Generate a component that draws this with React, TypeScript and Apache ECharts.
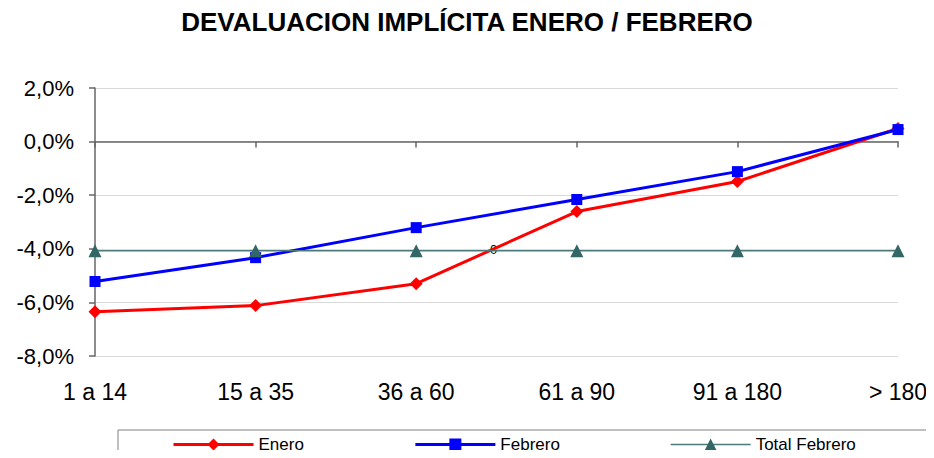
import React, { useEffect, useRef } from "react";
import * as echarts from "echarts";

const categories = ["1 a 14", "15 a 35", "36 a 60", "61 a 90", "91 a 180", "> 180"];
const enero = [-6.35, -6.12, -5.3, -2.61, -1.49, 0.49];
const febrero = [-5.22, -4.33, -3.21, -2.16, -1.12, 0.45];
const totalFebrero = [-4.07, -4.07, -4.07, -4.07, -4.07, -4.07];
const titleText = "DEVALUACION IMPLÍCITA ENERO / FEBRERO";

const fmt = (v: number) => v.toFixed(1).replace(".", ",") + "%";

export default function App() {
  const ref = useRef<HTMLDivElement>(null);
  useEffect(() => {
    const chart = echarts.init(ref.current!, null, { renderer: "svg" });
    const font = "Arial, 'Liberation Sans', sans-serif";
    chart.setOption({
      animation: false,
      backgroundColor: "#ffffff",
      textStyle: { fontFamily: font },
      title: {
        text: titleText,
        left: "center",
        top: 4,
        textStyle: { fontSize: 26, fontWeight: "bold", color: "#000", fontFamily: font },
      },
      grid: { left: 95, right: 36, top: 88, bottom: 102 },
      legend: {
        left: 118,
        top: 430,
        padding: [6, 72, 20, 54],
        itemGap: 110,
        itemWidth: 80,
        itemHeight: 15,
        borderColor: "#808080",
        borderWidth: 1,
        textStyle: { fontSize: 17, color: "#000", fontFamily: font },
        data: [
          { name: "Enero", lineStyle: { width: 3 } },
          { name: "Febrero", lineStyle: { width: 3 } },
          { name: "Total Febrero", lineStyle: { width: 1.5 } },
        ],
      },
      xAxis: [
        {
          type: "category",
          data: categories,
          boundaryGap: false,
          axisLine: { onZero: true, lineStyle: { color: "#666", width: 1.5 } },
          axisTick: { show: true, length: 6, inside: false, lineStyle: { color: "#666", width: 1.5 } },
          axisLabel: { show: false },
          splitLine: { show: false },
        },
        {
          type: "category",
          data: categories,
          boundaryGap: false,
          position: "bottom",
          axisLine: { show: false, onZero: false },
          axisTick: { show: false },
          axisLabel: { show: true, fontSize: 23, color: "#000", margin: 24, fontFamily: font },
          splitLine: { show: false },
        },
      ],
      yAxis: {
        type: "value",
        min: -8,
        max: 2,
        interval: 2,
        axisLine: { show: true, lineStyle: { color: "#666", width: 1.5 } },
        axisTick: { show: true, length: 6, lineStyle: { color: "#666", width: 1.5 } },
        axisLabel: { fontSize: 22, color: "#000", margin: 21, formatter: fmt, fontFamily: font },
        splitLine: { show: true, lineStyle: { color: "#d9d9d9", width: 1 } },
      },
      series: [
        {
          name: "Enero",
          type: "line",
          data: enero,
          xAxisIndex: 0,
          color: "#ff0000",
          lineStyle: { color: "#ff0000", width: 3 },
          itemStyle: { color: "#ff0000" },
          symbol: "diamond",
          symbolSize: 13,
        },
        {
          name: "Febrero",
          type: "line",
          data: febrero,
          xAxisIndex: 0,
          color: "#0000ff",
          lineStyle: { color: "#0000ff", width: 3 },
          itemStyle: { color: "#0000ff" },
          symbol: "rect",
          symbolSize: 11,
        },
        {
          name: "Total Febrero",
          type: "line",
          data: totalFebrero,
          xAxisIndex: 0,
          color: "#336666",
          lineStyle: { color: "#4d7a7a", width: 1.5 },
          itemStyle: { color: "#336666" },
          symbol: "triangle",
          symbolSize: 13,
        },
      ],
      graphic: [
        {
          type: "text",
          left: 490,
          top: 243,
          style: { text: "0", fontSize: 13, fill: "#000", fontFamily: font },
        },
      ],
    });
    return () => chart.dispose();
  }, []);
  return <div ref={ref} style={{ width: 934, height: 458, margin: -8 }} />;
}
